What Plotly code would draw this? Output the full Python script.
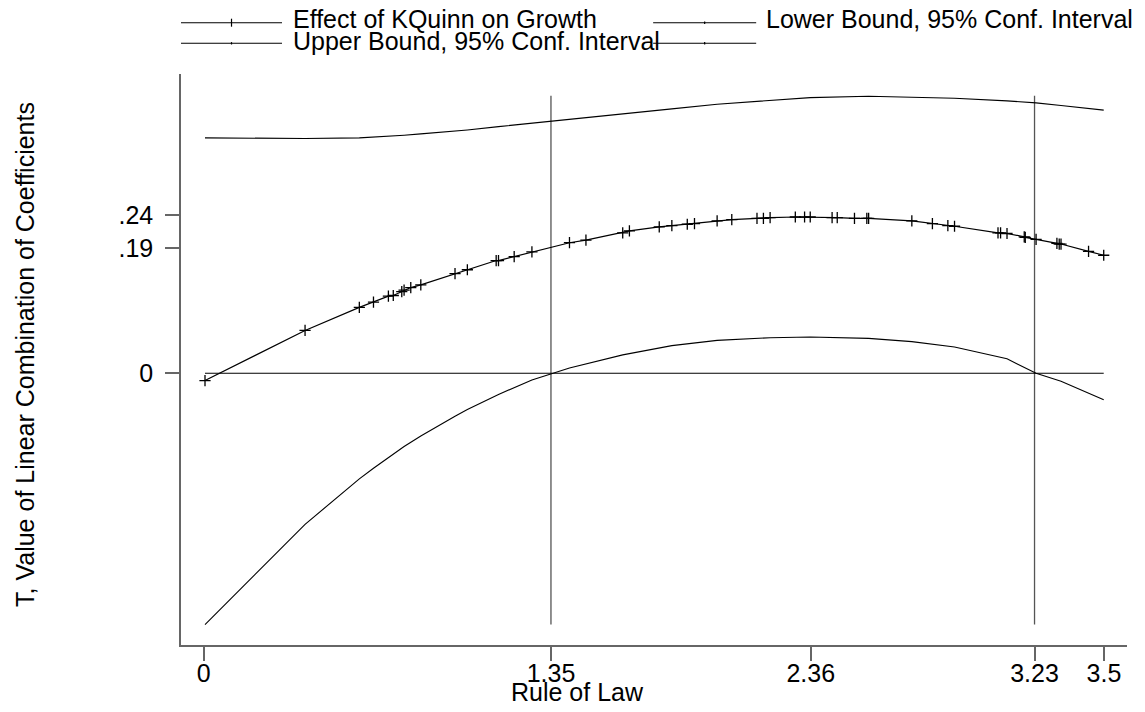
import plotly.graph_objects as go

# ---------------- data ----------------
rule_of_law = [0.005, 0.394, 0.605, 0.660, 0.718, 0.737, 0.770, 0.779, 0.805, 0.844,
               0.977, 1.025, 1.137, 1.146, 1.207, 1.276, 1.422, 1.486, 1.629, 1.655,
               1.771, 1.820, 1.880, 1.908, 1.996, 2.053, 2.151, 2.176, 2.202, 2.300,
               2.336, 2.358, 2.443, 2.463, 2.530, 2.578, 2.585, 2.753, 2.833, 2.893,
               2.919, 3.088, 3.098, 3.123, 3.190, 3.194, 3.236, 3.317, 3.326, 3.333,
               3.440, 3.499]
effect = [-0.011, 0.065, 0.100, 0.108, 0.117, 0.118, 0.124, 0.126, 0.130, 0.134,
          0.151, 0.157, 0.171, 0.171, 0.177, 0.184, 0.198, 0.202, 0.213, 0.216,
          0.222, 0.224, 0.226, 0.227, 0.231, 0.233, 0.235, 0.235, 0.236, 0.237,
          0.237, 0.237, 0.236, 0.236, 0.235, 0.235, 0.235, 0.231, 0.227, 0.224,
          0.223, 0.213, 0.213, 0.212, 0.207, 0.206, 0.203, 0.197, 0.196, 0.196,
          0.185, 0.179]
zero_line = [0.0] * len(rule_of_law)

bound_x = [0.005, 0.394, 0.605, 0.660, 0.779, 0.844, 0.977, 1.025, 1.146, 1.276,
           1.422, 1.629, 1.820, 1.996, 2.202, 2.358, 2.585, 2.753, 2.919, 3.123,
           3.236, 3.333, 3.499]
lower_bound = [-0.381, -0.229, -0.160, -0.144, -0.111, -0.095, -0.065, -0.055, -0.032, -0.010,
               0.008, 0.028, 0.042, 0.050, 0.054, 0.055, 0.053, 0.048, 0.040, 0.022,
               0.000, -0.012, -0.040]
upper_bound = [0.357, 0.356, 0.357, 0.358, 0.361, 0.363, 0.367, 0.369, 0.374, 0.379,
               0.385, 0.393, 0.401, 0.408, 0.414, 0.418, 0.420, 0.419, 0.417, 0.413,
               0.410, 0.406, 0.399]

xlines = [1.35, 3.23]
xline_span = [-0.381, 0.421]

x_ticks = [0, 1.35, 2.36, 3.23, 3.5]
x_ticktext = ["0", "1.35", "2.36", "3.23", "3.5"]
y_ticks = [0, 0.19, 0.24]
y_ticktext = ["0", ".19", ".24"]

legend_labels = ["Effect of KQuinn on Growth", "Lower Bound, 95% Conf. Interval",
                 "Upper Bound, 95% Conf. Interval"]
x_title = "Rule of Law"
y_title = "T, Value of Linear Combination of Coefficients"

# ---------------- geometry (page pixels; page has an 8px body margin) ----------------
FONT = "Liberation Sans, Arial, Helvetica, sans-serif"
OFF = 8
PAGE_W, PAGE_H = 1145, 712
PL, PR, PT, PB = 181, 1126.7, 74, 645          # plot area in page pixels
W, H = PAGE_W - OFF, PAGE_H - OFF
L, T = PL - OFF, PT - OFF
R, B = W - (PR - OFF), H - (PB - OFF)

fig = go.Figure()

for xv in xlines:
    fig.add_trace(go.Scatter(x=[xv, xv], y=xline_span, mode="lines",
                             line=dict(color="#555555", width=1.3),
                             showlegend=False, hoverinfo="skip"))

fig.add_trace(go.Scatter(x=rule_of_law, y=zero_line, mode="lines",
                         line=dict(color="black", width=1.1), showlegend=False))
fig.add_trace(go.Scatter(x=bound_x, y=upper_bound, mode="lines",
                         line=dict(color="black", width=1.1),
                         name=legend_labels[2], showlegend=False))
fig.add_trace(go.Scatter(x=bound_x, y=lower_bound, mode="lines",
                         line=dict(color="black", width=1.1), name=legend_labels[1],
                         showlegend=False))
fig.add_trace(go.Scatter(x=rule_of_law, y=effect, mode="lines+markers",
                         line=dict(color="black", width=1.2),
                         marker=dict(symbol="cross-thin", size=8,
                                     line=dict(color="black", width=1.3)),
                         name=legend_labels[0], showlegend=False))

# ---------------- manual legend (Stata style) ----------------
def px(xp):
    return (xp - PL) / (PR - PL)


def py(yp):
    return (PB - yp) / (PB - PT)


shapes = []
annotations = []
legend_items = [
    # (line x0, line x1, line y, text x, text y, label, big cross)
    (181, 282, 22.7, 291, 19.5, legend_labels[0], True),
    (653, 756, 22.7, 764, 19.5, legend_labels[1], False),
    (181, 282, 43.3, 291, 40.5, legend_labels[2], False),
    (653, 756, 43.3, None, None, "", False),
]
for x0, x1, yl, tx, ty, lab, big in legend_items:
    shapes.append(dict(type="line", xref="paper", yref="paper",
                       x0=px(x0), x1=px(x1), y0=py(yl), y1=py(yl),
                       line=dict(color="black", width=1.1)))
    xc = (x0 + x1) / 2
    h = 4 if big else 1.2
    shapes.append(dict(type="line", xref="paper", yref="paper",
                       x0=px(xc), x1=px(xc), y0=py(yl - h), y1=py(yl + h),
                       line=dict(color="black", width=1.2)))
    if lab:
        annotations.append(dict(text=lab, xref="paper", yref="paper",
                                x=px(tx), y=py(ty), xanchor="left", yanchor="middle",
                                showarrow=False,
                                font=dict(family=FONT, size=25, color="black")))

# axis titles, placed as in the reference
annotations.append(dict(text=x_title, xref="paper", yref="paper",
                        x=px(577), y=py(692), xanchor="center", yanchor="middle",
                        showarrow=False, font=dict(family=FONT, size=25, color="black")))
annotations.append(dict(text=y_title, xref="paper", yref="paper",
                        x=px(25), y=py(354), xanchor="center", yanchor="middle",
                        textangle=-90, showarrow=False,
                        font=dict(family=FONT, size=25, color="black")))

fig.update_layout(
    width=W, height=H,
    margin=dict(l=L, r=R, t=T, b=B, autoexpand=False),
    paper_bgcolor="white", plot_bgcolor="white",
    font=dict(family=FONT, size=25, color="black"),
    showlegend=False,
    shapes=shapes,
    annotations=annotations,
    xaxis=dict(range=[-0.0883, 3.5895], tickmode="array", tickvals=x_ticks,
               ticktext=x_ticktext, showgrid=False, zeroline=False,
               showline=True, linecolor="#666666", linewidth=1.5,
               ticks="outside", ticklen=14, tickwidth=1.5, tickcolor="#666666",
               ticklabelstandoff=-9,
               tickfont=dict(family=FONT, size=25, color="black"),
               automargin=False),
    yaxis=dict(range=[-0.4119, 0.4538], tickmode="array", tickvals=y_ticks,
               ticktext=y_ticktext, showgrid=False, zeroline=False,
               showline=True, linecolor="#666666", linewidth=1.5,
               ticks="outside", ticklen=14, tickwidth=1.5, tickcolor="#666666",
               ticklabelstandoff=7,
               tickfont=dict(family=FONT, size=25, color="black"),
               automargin=False),
)

fig.write_html("out.html")
